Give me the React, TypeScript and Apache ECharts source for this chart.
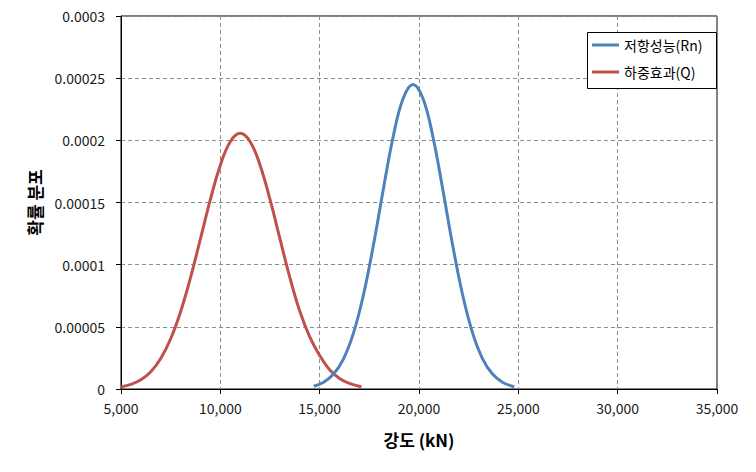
import React, { useEffect, useRef } from "react";
import * as echarts from "echarts";

const xTicks = [5000, 10000, 15000, 20000, 25000, 30000, 35000];
const yTicks = [0, 0.00005, 0.0001, 0.00015, 0.0002, 0.00025, 0.0003];

const seriesNames = ["저항성능(Rn)", "하중효과(Q)"];

const resistX = [
  14700, 15200, 15700, 16200, 16700, 17200, 17700, 18200, 18700, 19200, 19700,
  20200, 20700, 21200, 21700, 22200, 22700, 23200, 23700, 24200, 24700, 24800,
];
const resistY = [
  0.0000022, 0.0000054, 0.000012, 0.0000243, 0.0000449, 0.0000754, 0.0001152,
  0.0001603, 0.0002029, 0.0002337, 0.000245, 0.0002337, 0.0002029, 0.0001603,
  0.0001152, 0.0000754, 0.0000449, 0.0000243, 0.000012, 0.0000054, 0.0000022,
  0.0000018,
];

const loadX = [
  5000, 5500, 6000, 6500, 7000, 7500, 8000, 8500, 9000, 9500, 10000, 10500,
  11000, 11500, 12000, 12500, 13000, 13500, 14000, 14500, 15000, 15500, 16000,
  16500, 17000, 17100,
];
const loadY = [
  0.0000017, 0.0000037, 0.0000074, 0.0000139, 0.0000245, 0.0000404, 0.0000622,
  0.0000896, 0.0001209, 0.0001525, 0.00018, 0.0001989, 0.0002056, 0.0001989,
  0.00018, 0.0001525, 0.0001209, 0.0000896, 0.0000625, 0.000042, 0.000027,
  0.0000155, 0.0000085, 0.0000045, 0.0000022, 0.0000018,
];

const FONT = "'Noto Sans CJK KR', 'Noto Sans', sans-serif";

export default function App() {
  const ref = useRef<HTMLDivElement>(null);
  useEffect(() => {
    if (!ref.current) return;
    const chart = echarts.init(ref.current, null, { renderer: "svg" });
    const fmtY = (v: number) =>
      v === 0 ? "0" : v.toFixed(5).replace(/0+$/, "");
    chart.setOption({
      animation: false,
      backgroundColor: "#ffffff",
      textStyle: { fontFamily: FONT },
      grid: {
        left: 121,
        right: 39,
        top: 16,
        bottom: 83,
        containLabel: false,
        show: true,
        borderColor: "#000",
        borderWidth: 1,
      },
      graphic: [
        {
          type: "rect",
          z: 10,
          shape: { x: 587.5, y: 32.5, width: 129, height: 56 },
          style: { fill: "#fff", stroke: "#000", lineWidth: 1 },
        },
      ],
      legend: {
        z: 20,
        orient: "vertical",
        left: 587,
        top: 32,
        padding: [4, 5, 7, 5],
        itemGap: 9,
        itemWidth: 27,
        itemHeight: 3,
        icon: "rect",
        data: seriesNames,
        textStyle: {
          fontFamily: FONT,
          fontSize: 14,
          color: "#000",
          lineHeight: 18,
        },
      },
      xAxis: {
        type: "value",
        min: xTicks[0],
        max: xTicks[xTicks.length - 1],
        interval: 5000,
        name: "강도 (kN)",
        nameLocation: "middle",
        nameGap: 42,
        nameTextStyle: {
          fontFamily: FONT,
          fontSize: 17,
          fontWeight: "bold",
          color: "#000",
        },
        axisLine: { show: true, lineStyle: { color: "#000", width: 1 } },
        axisTick: {
          show: true,
          inside: false,
          length: 5,
          lineStyle: { color: "#000" },
        },
        axisLabel: {
          margin: 12,
          fontSize: 14,
          color: "#1a1a1a",
          fontFamily: FONT,
          formatter: (v: number) => v.toLocaleString("en-US"),
        },
        splitLine: {
          show: true,
          lineStyle: { color: "#8c8c8c", type: [4, 3], width: 1 },
        },
      },
      yAxis: {
        type: "value",
        min: yTicks[0],
        max: yTicks[yTicks.length - 1],
        interval: 0.00005,
        name: "확률 분포",
        nameLocation: "middle",
        nameRotate: 90,
        nameGap: 78,
        nameTextStyle: {
          fontFamily: FONT,
          fontSize: 17,
          fontWeight: "bold",
          color: "#000",
        },
        axisLine: { show: true, lineStyle: { color: "#000", width: 1 } },
        axisTick: {
          show: true,
          inside: false,
          length: 5,
          lineStyle: { color: "#000" },
        },
        axisLabel: {
          margin: 16,
          fontSize: 14,
          color: "#1a1a1a",
          fontFamily: FONT,
          formatter: fmtY,
        },
        splitLine: {
          show: true,
          lineStyle: { color: "#8c8c8c", type: [4, 3], width: 1 },
        },
      },
      series: [
        {
          name: seriesNames[0],
          type: "line",
          data: resistX.map((x, i) => [x, resistY[i]]),
          smooth: 0.4,
          showSymbol: false,
          symbol: "none",
          color: "#4F81BD",
          lineStyle: { color: "#4F81BD", width: 3 },
          z: 3,
        },
        {
          name: seriesNames[1],
          type: "line",
          data: loadX.map((x, i) => [x, loadY[i]]),
          smooth: 0.4,
          showSymbol: false,
          symbol: "none",
          color: "#C0504D",
          lineStyle: { color: "#C0504D", width: 3 },
          z: 2,
        },
      ],
    });
    return () => chart.dispose();
  }, []);
  return (
    <div
      ref={ref}
      style={{ width: 756, height: 472, margin: -8, overflow: "hidden" }}
    />
  );
}
